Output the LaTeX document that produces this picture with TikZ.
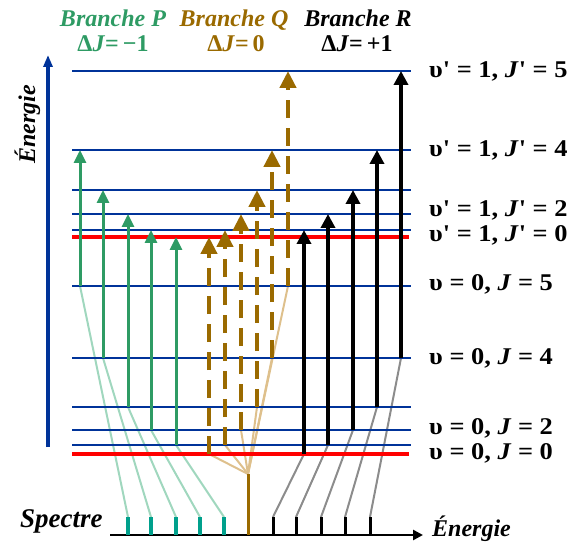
\documentclass[tikz,border=0pt]{standalone}
\usepackage{fontspec}
\setmainfont{Liberation Serif}
\usetikzlibrary{arrows.meta}
\definecolor{lvblue}{RGB}{0,51,153}
\definecolor{lvred}{RGB}{255,0,0}
\definecolor{pgreen}{RGB}{46,155,100}
\definecolor{qbrown}{RGB}{154,106,0}
\definecolor{steal}{RGB}{0,160,140}
\definecolor{fgreen}{RGB}{160,215,190}
\definecolor{fbrown}{RGB}{222,192,140}
\definecolor{fgray}{RGB}{140,140,140}
\newcommand{\widelab}[1]{\scalebox{1.1}[1]{#1}}
\tikzset{
  level/.style={line width=2.7pt, lvblue},
  redlevel/.style={line width=4.7pt, lvred},
  parrow/.style={line width=3pt, pgreen, -{Triangle[width=12pt,length=13pt]}},
  qarrow/.style={line width=4.5pt, qbrown, dash pattern=on 18pt off 10pt, -{Triangle[width=16pt,length=17pt]}},
  rarrow/.style={line width=3.5pt, black, -{Triangle[width=14pt,length=14pt]}},
  faintp/.style={line width=2pt, fgreen},
  faintq/.style={line width=2pt, fbrown},
  faintr/.style={line width=2pt, fgray},
  lab/.style={font=\fontsize{24}{28}\selectfont\bfseries, anchor=west, inner sep=0pt},
  head/.style={font=\fontsize{24}{28}\selectfont\bfseries\itshape, inner sep=0pt, anchor=base},
  headd/.style={font=\fontsize{24}{28}\selectfont\bfseries, inner sep=0pt, anchor=base},
}
\begin{document}
\begin{tikzpicture}[x=1pt,y=-1pt]
\useasboundingbox (0,0) rectangle (570,545);
% energy levels
\foreach \n/\y in {u5/71,u4/150,u3/190,u2/214,u1/230,l5/286,l4/358,l3/407,l2/430,l1/445} {
  \coordinate (\n a) at (72,\y); \coordinate (\n b) at (411,\y);
}
\coordinate (u0a) at (72,237); \coordinate (u0b) at (409,237);
\coordinate (l0a) at (72,454); \coordinate (l0b) at (409,454);
% endpoints of transitions
\foreach \i/\x/\yb/\yt/\s in {1/80/286/150/128,2/103/358/190/151,3/128/407/214/176,4/151/430/230/200,5/176/445/237/224} {
  \coordinate (Pb\i) at (\x,\yb); \coordinate (Pt\i) at (\x,\yt); \coordinate (Ps\i) at (\s,517); \coordinate (Pz\i) at (\s,535);
}
\foreach \i/\x/\yb/\yt in {1/209/454/237,2/225/445/230,3/241/430/214,4/257/407/190,5/272/358/150,6/288/286/71} {
  \coordinate (Qb\i) at (\x,\yb); \coordinate (Qt\i) at (\x,\yt);
}
\coordinate (Qc) at (248,474); \coordinate (Qz) at (248,535);
\foreach \i/\x/\yb/\yt/\s in {1/304/454/230/273,2/328/445/214/296,3/353/430/190/321,4/377/407/150/345,5/401/358/71/370} {
  \coordinate (Rb\i) at (\x,\yb); \coordinate (Rt\i) at (\x,\yt); \coordinate (Rs\i) at (\s,517); \coordinate (Rz\i) at (\s,535);
}
% faint connectors to the spectrum
\foreach \i in {1,...,5} { \draw[faintp] (Pb\i) -- (Ps\i); \draw[faintr] (Rb\i) -- (Rs\i); }
\foreach \i in {1,...,6} { \draw[faintq] (Qb\i) -- (Qc); }
% levels
\foreach \n in {u5,u4,u3,u2,u1,l5,l4,l3,l2,l1} { \draw[level] (\n a) -- (\n b); }
\draw[redlevel] (u0a) -- (u0b);
\draw[redlevel] (l0a) -- (l0b);
% transitions
\foreach \i in {1,...,5} { \draw[parrow] (Pb\i) -- (Pt\i); \draw[rarrow] (Rb\i) -- (Rt\i); }
\foreach \i in {1,...,6} { \draw[qarrow] (Qb\i) -- (Qt\i); }
% energy axis
\coordinate (ea) at (48,447); \coordinate (eb) at (48,55);
\draw[line width=3.3pt, lvblue, -{Triangle[width=9pt,length=12pt]}] (ea) -- (eb);
\node[font=\fontsize{24}{28}\selectfont\bfseries\itshape, rotate=90, anchor=base west, inner sep=0pt] (elab) at (35,164) {Énergie};
% spectrum
\coordinate (sa) at (110,535); \coordinate (sb) at (423,535);
\draw[line width=2.7pt, -{Triangle[width=10pt,length=10pt]}] (sa) -- (sb);
\foreach \i in {1,...,5} {
  \draw[line width=4.5pt, steal] (Pz\i) -- (Ps\i);
  \draw[line width=3pt, black] (Rz\i) -- (Rs\i);
}
\draw[line width=3pt, qbrown] (Qz) -- (Qc);
\node[font=\fontsize{27}{30}\selectfont\bfseries\itshape, anchor=base west, inner sep=0pt] (spec) at (20,527) {Spectre};
\node[font=\fontsize{24}{28}\selectfont\bfseries\itshape, anchor=base west, inner sep=0pt] (en) at (432,536) {Énergie};
% branch headers
\node[head, pgreen] (hP) at (113,27) {Branche P};
\node[headd, pgreen] (dP) at (113,52) {Δ\textit{J}=\,−1};
\node[head, qbrown] (hQ) at (234,27) {Branche Q};
\node[headd, qbrown] (dQ) at (236,52) {Δ\textit{J}=\,0};
\node[head, black] (hR) at (358,27) {Branche R};
\node[headd, black] (dR) at (357,52) {Δ\textit{J}=\,+1};
% level labels
\node[lab] (t1) at (429,71) {\widelab{υ\textquotesingle{} = 1, \textit{J}\textquotesingle{} = 5}};
\node[lab] (t2) at (429,150) {\widelab{υ\textquotesingle{} = 1, \textit{J}\textquotesingle{} = 4}};
\node[lab] (t3) at (429,210) {\widelab{υ\textquotesingle{} = 1, \textit{J}\textquotesingle{} = 2}};
\node[lab] (t4) at (429,235) {\widelab{υ\textquotesingle{} = 1, \textit{J}\textquotesingle{} = 0}};
\node[lab] (t5) at (429,284) {\widelab{υ = 0, \textit{J} = 5}};
\node[lab] (t6) at (429,358) {\widelab{υ = 0, \textit{J} = 4}};
\node[lab] (t7) at (429,428) {\widelab{υ = 0, \textit{J} = 2}};
\node[lab] (t8) at (429,453) {\widelab{υ = 0, \textit{J} = 0}};
\end{tikzpicture}
\end{document}
